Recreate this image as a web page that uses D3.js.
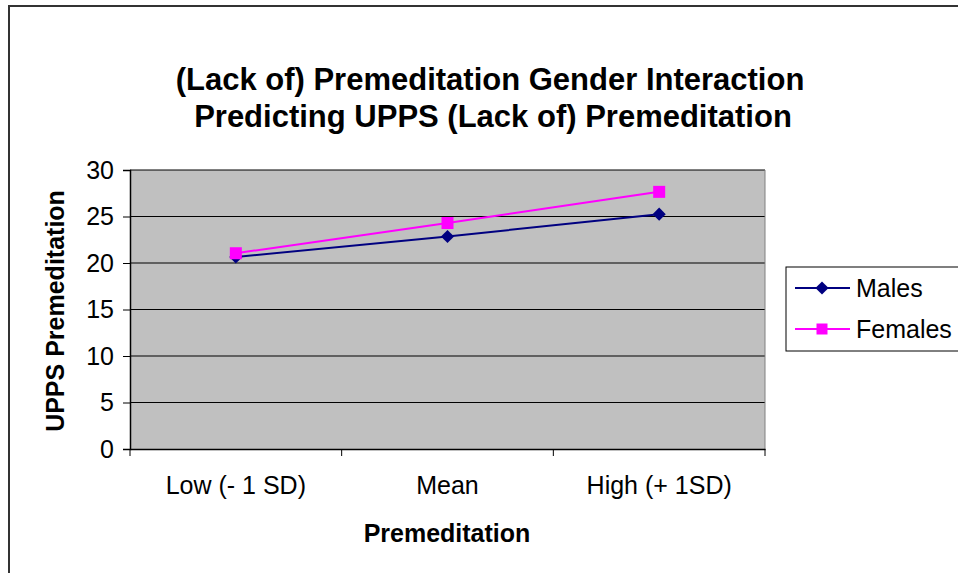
<!DOCTYPE html>
<html>
<head>
<meta charset="utf-8">
<script src="https://cdn.jsdelivr.net/npm/d3@7"></script>
<style>
  body { margin: 0; background: #fff; }
  svg { display: block; font-family: "Liberation Sans", Arial, sans-serif; }
</style>
</head>
<body>
<svg id="chart"></svg>
<script>
const categories = ['Low (- 1 SD)', 'Mean', 'High (+ 1SD)'];
const males = [20.65, 22.85, 25.25];
const females = [21.05, 24.3, 27.65];
const yTicks = [0, 5, 10, 15, 20, 25, 30];

const W = 958, H = 573;
const plot = {left: 130, right: 765, top: 170, bottom: 449};

const svg = d3.select('#chart')
  .attr('width', W)
  .attr('height', H);

// outer chart border
svg.append('rect')
  .attr('x', 9).attr('y', 6)
  .attr('width', 1000).attr('height', 700)
  .attr('fill', '#fff')
  .attr('stroke', '#333')
  .attr('stroke-width', 2);

const x = d3.scaleBand()
  .domain(categories)
  .range([plot.left, plot.right]);

const y = d3.scaleLinear()
  .domain([0, 30])
  .range([plot.bottom, plot.top]);

// plot area
svg.append('rect')
  .attr('x', plot.left).attr('y', plot.top)
  .attr('width', plot.right - plot.left)
  .attr('height', plot.bottom - plot.top)
  .attr('fill', '#c0c0c0');

// gridlines
svg.append('g')
  .selectAll('line')
  .data(yTicks.filter(d => d > 0))
  .enter()
  .append('line')
  .attr('x1', plot.left).attr('x2', plot.right)
  .attr('y1', d => y(d)).attr('y2', d => y(d))
  .attr('stroke', '#000')
  .attr('stroke-width', 1);

// right border of plot area
svg.append('line')
  .attr('x1', plot.right).attr('x2', plot.right)
  .attr('y1', plot.top).attr('y2', plot.bottom)
  .attr('stroke', '#808080');

// y axis
const yAxis = svg.append('g')
  .attr('transform', `translate(${plot.left},0)`)
  .call(d3.axisLeft(y).tickValues(yTicks).tickSize(7).tickPadding(9).tickFormat(d3.format('d')));
yAxis.selectAll('text').style('font-size', '25px').attr('fill', '#000');

// x axis
const xAxis = svg.append('g')
  .attr('transform', `translate(0,${plot.bottom})`)
  .call(d3.axisBottom(x).tickSize(0).tickPadding(27));
xAxis.selectAll('text').style('font-size', '25px').attr('fill', '#000');
xAxis.selectAll('.tick line').remove();
xAxis.append('g')
  .selectAll('line')
  .data(d3.range(categories.length + 1))
  .enter()
  .append('line')
  .attr('x1', i => plot.left + i * x.step())
  .attr('x2', i => plot.left + i * x.step())
  .attr('y1', 0).attr('y2', 7)
  .attr('stroke', '#000');
svg.selectAll('.domain').attr('stroke', '#000').attr('stroke-width', 1.5);

const cx = d => x(d) + x.bandwidth() / 2;

const line = d3.line()
  .x((d, i) => cx(categories[i]))
  .y(d => y(d));

// males series
svg.append('path')
  .datum(males)
  .attr('fill', 'none')
  .attr('stroke', '#000080')
  .attr('stroke-width', 2)
  .attr('d', line);

svg.selectAll('.male')
  .data(males)
  .enter()
  .append('path')
  .attr('class', 'male')
  .attr('transform', (d, i) => `translate(${cx(categories[i])},${y(d)})`)
  .attr('d', d3.symbol().type(d3.symbolDiamond2).size(110))
  .attr('fill', '#000080');

// females series
svg.append('path')
  .datum(females)
  .attr('fill', 'none')
  .attr('stroke', '#ff00ff')
  .attr('stroke-width', 2)
  .attr('d', line);

svg.selectAll('.female')
  .data(females)
  .enter()
  .append('rect')
  .attr('class', 'female')
  .attr('x', (d, i) => cx(categories[i]) - 6)
  .attr('y', d => y(d) - 6)
  .attr('width', 12).attr('height', 12)
  .attr('fill', '#ff00ff');

// title
const title = svg.append('text')
  .attr('text-anchor', 'middle')
  .style('font-size', '31px')
  .style('font-weight', 'bold');
title.append('tspan').attr('x', 490).attr('y', 90).text('(Lack of) Premeditation Gender Interaction');
title.append('tspan').attr('x', 493).attr('y', 127).text('Predicting UPPS (Lack of) Premeditation');

// axis titles
svg.append('text')
  .attr('x', 447).attr('y', 542)
  .attr('text-anchor', 'middle')
  .style('font-size', '25px')
  .style('font-weight', 'bold')
  .text('Premeditation');

svg.append('text')
  .attr('transform', 'translate(64,311) rotate(-90)')
  .attr('text-anchor', 'middle')
  .style('font-size', '25px')
  .style('font-weight', 'bold')
  .text('UPPS Premeditation');

// legend
const legend = svg.append('g');
legend.append('rect')
  .attr('x', 786).attr('y', 267)
  .attr('width', 200).attr('height', 84)
  .attr('fill', '#fff')
  .attr('stroke', '#000');

const series = [
  {name: 'Males', color: '#000080', shape: 'diamond'},
  {name: 'Females', color: '#ff00ff', shape: 'square'}
];

const item = legend.selectAll('.item')
  .data(series)
  .enter()
  .append('g')
  .attr('transform', (d, i) => `translate(0,${288 + i * 41})`);

item.append('line')
  .attr('x1', 795).attr('x2', 850)
  .attr('stroke', d => d.color)
  .attr('stroke-width', 2);

item.append('path')
  .attr('transform', 'translate(822,0)')
  .attr('d', d => d.shape === 'diamond'
    ? d3.symbol().type(d3.symbolDiamond2).size(110)()
    : d3.symbol().type(d3.symbolSquare).size(121)())
  .attr('fill', d => d.color);

item.append('text')
  .attr('x', 856).attr('y', 9)
  .style('font-size', '25px')
  .text(d => d.name);
</script>
</body>
</html>
